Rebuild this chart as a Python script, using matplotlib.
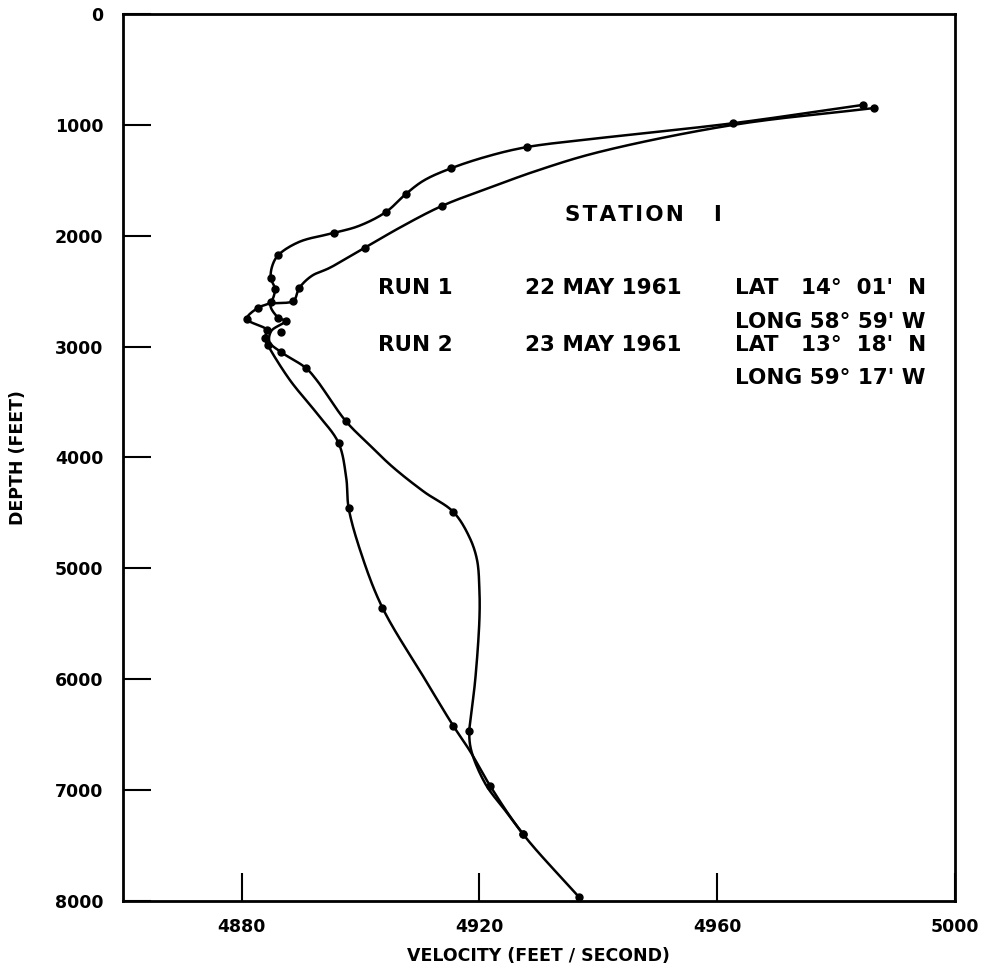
import matplotlib
matplotlib.use("Agg")
import matplotlib.pyplot as plt
import numpy as np

# ---- Data (velocity ft/s, depth ft) ----
# Run 1 trace (upper-left curve near the top)
run1_vel = [4984.5, 4962.7, 4940.1, 4928.0, 4921.6, 4915.3, 4910.7, 4907.7, 4904.3,
            4899.8, 4895.5, 4889.7, 4886.2, 4885.2, 4884.9, 4885.6, 4884.9, 4882.7,
            4880.9, 4884.2, 4883.9, 4884.4, 4888.1, 4892.6, 4896.3, 4897.6, 4898.0,
            4900.1, 4903.7, 4910.9, 4915.6, 4918.4, 4921.8, 4927.3, 4936.7]
run1_depth = [820, 985, 1120, 1200, 1280, 1390, 1500, 1620, 1785,
              1910, 1975, 2055, 2173, 2265, 2380, 2480, 2597, 2651,
              2750, 2849, 2922, 2985, 3300, 3598, 3868, 4184, 4454,
              4863, 5356, 6005, 6420, 6646, 6961, 7394, 7962]
run1_dot_vel = [4984.5, 4962.7, 4928.0, 4915.3, 4907.7, 4904.3, 4895.5, 4886.2,
                4884.9, 4885.6, 4884.9, 4882.7, 4880.9, 4884.2, 4883.9, 4884.4,
                4896.3, 4898.0, 4903.7, 4915.6, 4921.8, 4927.3, 4936.7]
run1_dot_depth = [820, 985, 1200, 1390, 1620, 1785, 1975, 2173,
                  2380, 2480, 2597, 2651, 2750, 2849, 2922, 2985,
                  3868, 4454, 5356, 6420, 6961, 7394, 7962]

# Run 2 trace
run2_vel = [4986.4, 4962.7, 4940.1, 4930.0, 4921.6, 4913.7, 4906.5, 4900.8, 4894.8,
            4891.8, 4889.7, 4888.7, 4884.9, 4886.2, 4887.4, 4885.0, 4884.7, 4886.6,
            4890.8, 4892.6, 4897.5, 4901.5, 4905.4, 4910.7, 4915.6, 4918.3, 4919.6,
            4920.0, 4920.0, 4919.3, 4918.6, 4918.3, 4918.6, 4921.0, 4924.5, 4927.3]
run2_depth = [848, 1000, 1245, 1407, 1569, 1731, 1930, 2107, 2290,
              2362, 2471, 2588, 2624, 2741, 2768, 2858, 2958, 3048,
              3192, 3300, 3670, 3886, 4085, 4310, 4490, 4716, 4923,
              5194, 5464, 6005, 6321, 6465, 6637, 6943, 7195, 7394]
run2_dot_vel = [4986.4, 4913.7, 4900.8, 4889.7, 4888.7, 4886.2, 4887.4, 4886.6,
                4890.8, 4897.5, 4915.6, 4918.3, 4927.3, 4886.6]
run2_dot_depth = [848, 1731, 2107, 2471, 2588, 2741, 2768, 3048,
                  3192, 3670, 4490, 6465, 7394, 2867]

x_ticks = [4880, 4920, 4960, 5000]
y_ticks = [0, 1000, 2000, 3000, 4000, 5000, 6000, 7000, 8000]


def smooth_path(xs, ys, sx=5.95, sy=0.111, n=16):
    """Centripetal Catmull-Rom rendering of a hand-drawn curve through read points."""
    P = np.column_stack([np.asarray(xs, float) * sx, np.asarray(ys, float) * sy])
    P = np.vstack([2 * P[0] - P[1], P, 2 * P[-1] - P[-2]])
    out = []
    for i in range(1, len(P) - 2):
        p0, p1, p2, p3 = P[i - 1], P[i], P[i + 1], P[i + 2]
        t0 = 0.0
        t1 = t0 + max(np.linalg.norm(p1 - p0), 1e-6) ** 0.5
        t2 = t1 + max(np.linalg.norm(p2 - p1), 1e-6) ** 0.5
        t3 = t2 + max(np.linalg.norm(p3 - p2), 1e-6) ** 0.5
        t = np.linspace(t1, t2, n, endpoint=False)[:, None]
        a1 = (t1 - t) / (t1 - t0) * p0 + (t - t0) / (t1 - t0) * p1
        a2 = (t2 - t) / (t2 - t1) * p1 + (t - t1) / (t2 - t1) * p2
        a3 = (t3 - t) / (t3 - t2) * p2 + (t - t2) / (t3 - t2) * p3
        b1 = (t2 - t) / (t2 - t0) * a1 + (t - t0) / (t2 - t0) * a2
        b2 = (t3 - t) / (t3 - t1) * a2 + (t - t1) / (t3 - t1) * a3
        c = (t2 - t) / (t2 - t1) * b1 + (t - t1) / (t2 - t1) * b2
        out.append(c)
    out.append(P[-2][None, :])
    C = np.vstack(out)
    return C[:, 0] / sx, C[:, 1] / sy


# ---- Figure ----
fig = plt.figure(figsize=(10.0, 9.66), dpi=100)
ax = fig.add_axes([0.1227, 0.0673, 0.8323, 0.9182])

for vx, dy in ((run1_vel, run1_depth), (run2_vel, run2_depth)):
    sxv, syv = smooth_path(vx, dy)
    ax.plot(sxv, syv, color="black", lw=1.8, solid_joinstyle="round",
            solid_capstyle="round")
ax.plot(run1_dot_vel, run1_dot_depth, "o", color="black", ms=5)
ax.plot(run2_dot_vel, run2_dot_depth, "o", color="black", ms=5)

ax.set_xlim(4860, 5000)
ax.set_ylim(8000, 0)

bold = dict(fontfamily="DejaVu Sans", fontweight="bold")
ax.set_xticks(x_ticks)
ax.set_xticklabels([str(v) for v in x_ticks], fontsize=12.5, **bold)
ax.set_yticks(y_ticks)
ax.set_yticklabels([str(v) for v in y_ticks], fontsize=12.5, **bold)
ax.tick_params(axis="both", direction="in", length=20, width=1.5,
               top=False, right=False)
ax.tick_params(axis="x", pad=12)
ax.tick_params(axis="y", pad=14)
for s in ax.spines.values():
    s.set_linewidth(2.0)

ax.set_xlabel("VELOCITY (FEET / SECOND)", fontsize=12.5, labelpad=8, **bold)
ax.set_ylabel("DEPTH (FEET)", fontsize=12.5, labelpad=20, **bold)

tkw = dict(transform=ax.transAxes, fontsize=15.5, va="center", ha="left", **bold)
hs = "\u200a"
ax.text(0.531, 0.773, hs.join("STATION") + "    I", **tkw)
ax.text(0.307, 0.691, "RUN 1", **tkw)
ax.text(0.483, 0.691, "22 MAY 1961", **tkw)
ax.text(0.736, 0.691, "LAT   14°  01'  N", **tkw)
ax.text(0.736, 0.653, "LONG 58° 59' W", **tkw)
ax.text(0.307, 0.627, "RUN 2", **tkw)
ax.text(0.483, 0.627, "23 MAY 1961", **tkw)
ax.text(0.736, 0.627, "LAT   13°  18'  N", **tkw)
ax.text(0.736, 0.590, "LONG 59° 17' W", **tkw)

fig.savefig("out.png", dpi=100, facecolor="white")
